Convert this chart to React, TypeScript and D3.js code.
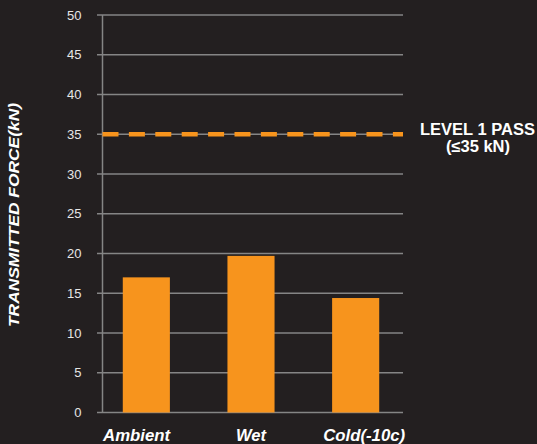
import React from "react";
import * as d3 from "d3";

const categories = ["Ambient", "Wet", "Cold(-10c)"];
const forces = [17, 19.7, 14.4];
const yTicks = [0, 5, 10, 15, 20, 25, 30, 35, 40, 45, 50];
const passLevel = 35;
const passLabel = ["LEVEL 1 PASS", "(≤35 kN)"];
const yTitle = "TRANSMITTED FORCE(kN)";

const W = 537;
const H = 444;
const BG = "#231f20";
const ORANGE = "#f7941d";
const GRID = "#858585";
const FONT = "'Liberation Sans', Arial, Helvetica, sans-serif";

// label layout tweaks (horizontal nudge and rendered width)
const labelNudge = [-9.8, 0, 8.5];
const labelWidth = [67, 30, 82];

export default function App() {
  const axisX = 102.5;
  const right = 403;
  const y = d3.scaleLinear().domain([0, 50]).range([412.5, 15]);
  const x = d3
    .scaleBand<string>()
    .domain(categories)
    .range([94, 408])
    .paddingInner(0.55)
    .paddingOuter(0.275);

  return (
    <svg width={W} height={H} style={{ position: "absolute", left: 0, top: 0, display: "block" }}>
      <rect x={0} y={0} width={W} height={H} fill={BG} />
      {yTicks.map((t) => (
        <g key={t}>
          <line x1={97} x2={right} y1={y(t)} y2={y(t)} stroke={GRID} strokeWidth={1.5} />
          <text x={81.5} y={y(t)} dy="0.35em" textAnchor="end" fill="#e6e6e6" fontSize={13} fontFamily={FONT}>
            {t}
          </text>
        </g>
      ))}
      <line x1={axisX} x2={axisX} y1={y(50)} y2={y(0)} stroke={GRID} strokeWidth={1.5} />
      {categories.map((c, i) => (
        <rect
          key={c}
          x={x(c)}
          y={y(forces[i])}
          width={x.bandwidth()}
          height={y(0) - y(forces[i])}
          fill={ORANGE}
        />
      ))}
      <line
        x1={axisX}
        x2={right}
        y1={y(passLevel)}
        y2={y(passLevel)}
        stroke={ORANGE}
        strokeWidth={4.7}
        strokeDasharray="16 10.4"
      />
      {categories.map((c, i) => (
        <text
          key={c}
          x={(x(c) as number) + x.bandwidth() / 2 + labelNudge[i] - labelWidth[i] / 2}
          y={441}
          textLength={labelWidth[i]}
          lengthAdjust="spacingAndGlyphs"
          fill="#ffffff"
          fontSize={16}
          fontWeight="bold"
          fontStyle="italic"
          fontFamily={FONT}
        >
          {c}
        </text>
      ))}
      <text fill="#ffffff" fontSize={16} fontWeight="bold" fontFamily={FONT}>
        <tspan x={420} y={135} textLength={115} lengthAdjust="spacingAndGlyphs">
          {passLabel[0]}
        </tspan>
        <tspan x={446} y={152} textLength={64} lengthAdjust="spacingAndGlyphs">
          {passLabel[1]}
        </tspan>
      </text>
      <text
        transform={`translate(19, 215) rotate(-90)`}
        x={-112}
        textLength={224}
        lengthAdjust="spacingAndGlyphs"
        fill="#ffffff"
        fontSize={14.5}
        fontWeight="bold"
        fontStyle="italic"
        fontFamily={FONT}
      >
        {yTitle}
      </text>
    </svg>
  );
}
